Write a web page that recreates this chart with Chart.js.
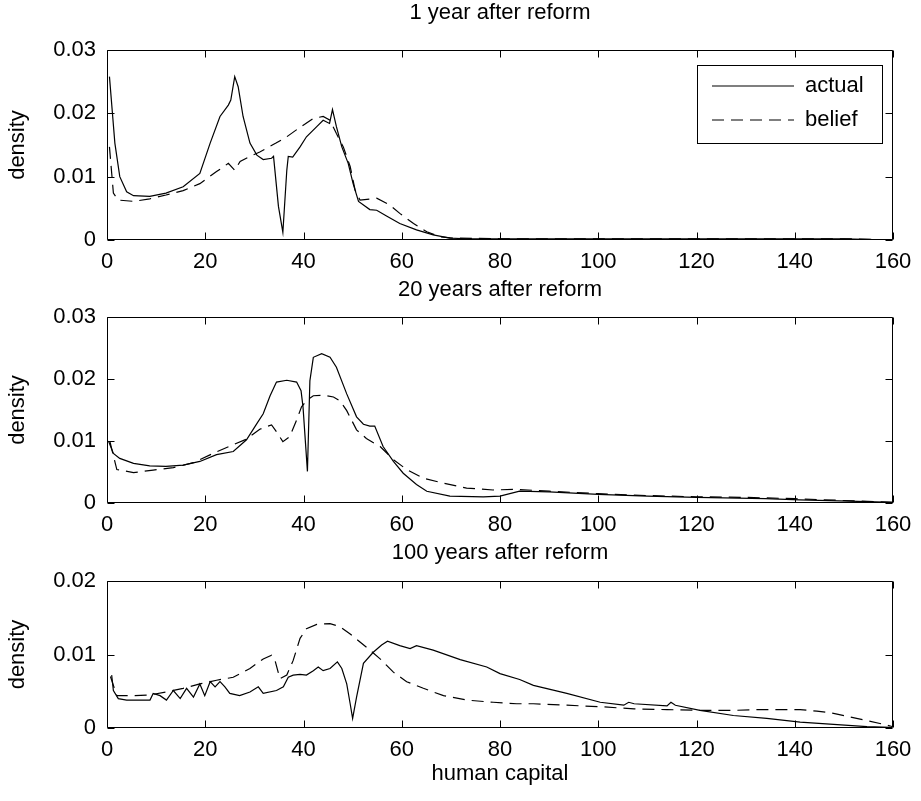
<!DOCTYPE html>
<html>
<head>
<meta charset="utf-8">
<title>human capital density</title>
<script src="https://cdn.jsdelivr.net/npm/chart.js@4.4.1/dist/chart.umd.min.js"></script>
<style>
  body { margin: 0; background: #fff; }
  #wrap { position: relative; width: 921px; height: 801px; }
  #wrap canvas { position: absolute; left: 0; }
</style>
</head>
<body>
<div id="wrap">
  <canvas id="c1" width="921" height="270" style="top:0px"></canvas>
  <canvas id="c2" width="921" height="263" style="top:270px"></canvas>
  <canvas id="c3" width="921" height="268" style="top:533px"></canvas>
</div>
<script>
// axis ticks and labels
const xTicks = [0, 20, 40, 60, 80, 100, 120, 140, 160];
const yTicksTall = [0, 0.01, 0.02, 0.03];
const yTicksShort = [0, 0.01, 0.02];
const seriesNames = ['actual', 'belief'];
const panelTitles = ['1 year after reform', '20 years after reform', '100 years after reform'];

// 1 year after reform
const hcActual1 = [0.5, 1.6, 2.6, 4, 5.4, 8.7, 12, 15.5, 18.9, 21, 23, 24.7, 25.2, 26, 26.7, 27.7, 29.1, 30.5, 31.8, 33.5,
  33.9, 34.9, 35.8, 36.6, 36.9, 37.8, 39.3, 40.6, 42.7, 44, 45.3, 45.9, 46.7, 47.8, 49.1, 50.1, 51.2, 53.5, 54.9, 56.9,
  59.6, 63, 66.4, 69.8, 73.2, 80, 100, 120, 140, 150, 160];
const densActual1 = [0.0258, 0.0153, 0.0100, 0.0076, 0.0070, 0.0069, 0.0074, 0.0084, 0.0105, 0.0153, 0.0195, 0.0213, 0.0221, 0.0258, 0.0242, 0.0195, 0.0153, 0.0134, 0.0127, 0.0129,
  0.0132, 0.0053, 0.0012, 0.0110, 0.0132, 0.0131, 0.0147, 0.0163, 0.0179, 0.0189, 0.0184, 0.0206, 0.0179, 0.0147, 0.0121, 0.0089, 0.0061, 0.0048, 0.0047, 0.0038,
  0.0026, 0.0016, 0.0008, 0.0003, 0.0002, 0.0002, 0.0002, 0.0002, 0.0002, 0.0002, 0.0000];
const hcBelief1 = [0.5, 1.3, 2.3, 5.4, 8.7, 12, 15.5, 18.9, 22.3, 24.7, 26, 27.1, 29.1, 31.1, 34.4, 36.6, 39.3, 42, 44, 45.4,
  46.7, 48.1, 49.5, 50.5, 51.5, 54.9, 57.6, 59.6, 62.4, 65.1, 67.8, 70.5, 80, 100, 120, 140, 150, 160];
const densBelief1 = [0.0147, 0.0074, 0.0063, 0.0061, 0.0065, 0.0071, 0.0078, 0.0089, 0.0108, 0.0121, 0.0110, 0.0124, 0.0132, 0.0139, 0.0153, 0.0163, 0.0178, 0.0192, 0.0195, 0.0189,
  0.0168, 0.0147, 0.0116, 0.0079, 0.0063, 0.0066, 0.0055, 0.0042, 0.0026, 0.0013, 0.0005, 0.0003, 0.0002, 0.0002, 0.0002, 0.0002, 0.0002, 0.0000];

// 20 years after reform
const hcActual2 = [0.3, 1.3, 2.6, 5.4, 8.7, 12, 15.5, 18.9, 22.3, 25.7, 28.4, 30.5, 31.8, 33.2, 34.5, 36.6, 38.6, 39.5, 39.9, 40.8,
  41.3, 42, 43.7, 45.4, 46.7, 48.8, 50.8, 52.2, 53.5, 54.5, 56.2, 58.3, 60.3, 63, 65.1, 69.8, 76.6, 80, 84, 90,
  100, 110, 120, 134, 141, 151, 160];
const densActual2 = [0.0100, 0.0080, 0.0072, 0.0064, 0.0060, 0.0059, 0.0061, 0.0067, 0.0078, 0.0083, 0.0102, 0.0128, 0.0144, 0.0173, 0.0195, 0.0198, 0.0195, 0.0181, 0.0155, 0.0051,
  0.0197, 0.0235, 0.0241, 0.0235, 0.0219, 0.0176, 0.0139, 0.0127, 0.0124, 0.0124, 0.0091, 0.0067, 0.0048, 0.0030, 0.0019, 0.0011, 0.0010, 0.0011, 0.0019, 0.0018,
  0.0014, 0.0011, 0.0009, 0.0007, 0.0005, 0.0003, 0.0001];
const hcBelief2 = [0.6, 2, 5.4, 9.4, 13.5, 17.6, 21.6, 25.7, 28.4, 31.1, 33.5, 34.5, 35.8, 37.2, 38.6, 39.6, 40.6, 42, 44, 46.1,
  47.4, 48.8, 50.8, 52.8, 55.6, 58.3, 61, 64.4, 68.5, 73.2, 78.6, 83.4, 90, 100, 110, 120, 130, 140, 150, 160];
const densBelief2 = [0.0099, 0.0054, 0.0049, 0.0053, 0.0057, 0.0065, 0.0080, 0.0094, 0.0103, 0.0119, 0.0126, 0.0115, 0.0099, 0.0107, 0.0134, 0.0155, 0.0165, 0.0173, 0.0174, 0.0171,
  0.0165, 0.0149, 0.0118, 0.0104, 0.0091, 0.0070, 0.0054, 0.0040, 0.0032, 0.0024, 0.0021, 0.0022, 0.0019, 0.0015, 0.0012, 0.0010, 0.0009, 0.0007, 0.0004, 0.0001];

// 100 years after reform
const hcActual3 = [0.95, 1.3, 2.3, 4, 8.75, 9.4, 10.8, 12.1, 13.5, 14.9, 16.2, 17.6, 18.9, 19.9, 21, 22, 23, 24, 25, 27,
  29.1, 30.8, 31.8, 34.5, 35.9, 36.9, 37.9, 39.3, 40.6, 42, 43, 44, 45.4, 46.9, 47.8, 48.8, 49.5, 50, 50.8, 52.2,
  54.2, 55.9, 57.1, 59.6, 61.7, 63, 66.4, 71.9, 77.3, 80, 84, 86.8, 93.6, 100.4, 105.2, 106.2, 107.3, 114, 114.8, 115.7,
  120.7, 127.5, 134.3, 141.1, 147.9, 154.7, 159.4];
const densActual3 = [0.0072, 0.0051, 0.0040, 0.0038, 0.0038, 0.0047, 0.0044, 0.0038, 0.0051, 0.0040, 0.0054, 0.0042, 0.0060, 0.0044, 0.0063, 0.0056, 0.0063, 0.0056, 0.0047, 0.0044,
  0.0049, 0.0056, 0.0047, 0.0051, 0.0056, 0.0069, 0.0072, 0.0073, 0.0072, 0.0078, 0.0083, 0.0078, 0.0081, 0.0090, 0.0081, 0.0060, 0.0033, 0.0013, 0.0042, 0.0088,
  0.0103, 0.0113, 0.0118, 0.0112, 0.0108, 0.0112, 0.0106, 0.0093, 0.0083, 0.0074, 0.0066, 0.0058, 0.0047, 0.0035, 0.0031, 0.0035, 0.0033, 0.0030, 0.0035, 0.0031,
  0.0024, 0.0017, 0.0013, 0.0008, 0.0005, 0.0002, 0.0001];
const hcBelief3 = [0.7, 2, 5.4, 8.75, 12.1, 15.5, 18.9, 22.3, 25.7, 29.1, 31.8, 33.5, 34.2, 35.2, 36.6, 37.9, 39.3, 40.6, 42.7, 45.4,
  47.4, 49.5, 51.5, 53.5, 55.6, 58.3, 61, 64.4, 68.5, 73.2, 78.6, 83.4, 86.8, 93.6, 100.4, 107.3, 114, 120.7, 127.5, 132.9,
  141.1, 144.5, 147.9, 151.3, 154.7, 158.1, 159.8];
const densBelief3 = [0.0070, 0.0044, 0.0044, 0.0045, 0.0049, 0.0054, 0.0060, 0.0065, 0.0069, 0.0081, 0.0094, 0.0099, 0.0092, 0.0067, 0.0072, 0.0092, 0.0122, 0.0135, 0.0141, 0.0142,
  0.0138, 0.0128, 0.0117, 0.0106, 0.0094, 0.0076, 0.0063, 0.0054, 0.0044, 0.0038, 0.0035, 0.0033, 0.0033, 0.0031, 0.0029, 0.0026, 0.0025, 0.0024, 0.0024, 0.0025,
  0.0025, 0.0023, 0.0020, 0.0015, 0.0010, 0.0005, 0.0002];

const FONT = { family: '"Liberation Sans", Arial, Helvetica, sans-serif', size: 22, weight: 'normal', lineHeight: 1.2 };
const INK = '#000';
const LINE_W = 1.2;

function toPoints(xs, ys) {
    return xs.map((x, i) => ({ x: x, y: ys[i] }));
}

// boxed axes with inward tick marks on all four sides
const boxAxes = {
    id: 'boxAxes',
    afterDatasetsDraw(chart) {
        const { ctx, chartArea: a, scales } = chart;
        const L = Math.round(a.left) + 0.5, R = Math.round(a.right) - 0.5;
        const T = Math.round(a.top) + 0.5, B = Math.round(a.bottom) - 0.5;
        const len = 7;
        ctx.save();
        ctx.strokeStyle = INK;
        ctx.lineWidth = 1;
        ctx.beginPath();
        ctx.rect(L, T, R - L, B - T);
        scales.x.ticks.forEach(t => {
            const px = Math.round(scales.x.getPixelForValue(t.value)) + 0.5;
            ctx.moveTo(px, T); ctx.lineTo(px, T + len);
            ctx.moveTo(px, B); ctx.lineTo(px, B - len);
        });
        scales.y.ticks.forEach(t => {
            const py = Math.round(scales.y.getPixelForValue(t.value)) + 0.5;
            ctx.moveTo(L, py); ctx.lineTo(L + len, py);
            ctx.moveTo(R, py); ctx.lineTo(R - len, py);
        });
        ctx.stroke();
        ctx.restore();
    }
};

// puts the legend in the upper right corner of the plot, inside a frame
const legendFrame = {
    id: 'legendFrame',
    afterLayout(chart) {
        const lg = chart.legend;
        const a = chart.chartArea;
        const box = { left: a.right - 11 - 185, top: a.top + 15, width: 185, height: 78 };
        const pad = lg.options.labels.padding;
        chart.$legendBox = box;
        lg.left = box.left + 15 - pad;
        lg.top = box.top + 10 - pad;
        lg.right = box.left + box.width;
        lg.bottom = box.top + box.height + 20;
        lg.width = lg.right - lg.left;
        lg.height = lg.bottom - lg.top;
    },
    afterDraw(chart) {
        const b = chart.$legendBox;
        const ctx = chart.ctx;
        ctx.save();
        ctx.strokeStyle = INK;
        ctx.lineWidth = 1;
        ctx.strokeRect(Math.round(b.left) + 0.5, Math.round(b.top) + 0.5, b.width, b.height);
        ctx.restore();
    }
};

// legend samples: same stroke and dash as the plotted lines
function lineLabels(chart) {
    const items = Chart.defaults.plugins.legend.labels.generateLabels(chart);
    return items.map(item => {
        const ds = chart.data.datasets[item.datasetIndex];
        item.lineDash = ds.borderDash || [];
        item.lineWidth = LINE_W;
        item.strokeStyle = INK;
        item.pointStyle = 'line';
        return item;
    });
}

function makePanel(id, p) {
    const plugins = [boxAxes];
    if (p.legend) plugins.push(legendFrame);

    return new Chart(document.getElementById(id), {
        type: 'line',
        data: {
            datasets: [{
                label: seriesNames[0],
                data: toPoints(p.actualX, p.actualY),
                borderColor: INK,
                backgroundColor: INK,
                borderWidth: LINE_W,
                pointRadius: 0,
                tension: 0
            }, {
                label: seriesNames[1],
                data: toPoints(p.beliefX, p.beliefY),
                borderColor: INK,
                backgroundColor: INK,
                borderWidth: LINE_W,
                borderDash: [12, 7],
                pointRadius: 0,
                tension: 0
            }]
        },
        options: {
            responsive: false,
            animation: false,
            devicePixelRatio: 1,
            events: [],
            layout: { padding: { left: 0, right: 28, top: 0, bottom: 0 } },
            plugins: {
                title: {
                    display: true,
                    text: p.title,
                    fullSize: false,
                    color: INK,
                    font: FONT,
                    padding: p.titlePad
                },
                legend: p.legend ? {
                    display: true,
                    position: 'chartArea',
                    align: 'start',
                    labels: {
                        color: INK,
                        font: FONT,
                        usePointStyle: true,
                        pointStyle: 'line',
                        pointStyleWidth: 82,
                        padding: 12,
                        generateLabels: lineLabels
                    }
                } : { display: false },
                tooltip: { enabled: false }
            },
            scales: {
                x: {
                    type: 'linear',
                    min: 0,
                    max: 160,
                    afterBuildTicks: s => { s.ticks = xTicks.map(v => ({ value: v })); },
                    afterFit: s => { s.height = p.xHeight; },
                    grid: { display: false, drawTicks: false },
                    border: { display: false },
                    ticks: { color: INK, font: FONT, padding: 9, maxRotation: 0, autoSkip: false },
                    title: p.xTitle ? {
                        display: true,
                        text: p.xTitle,
                        color: INK,
                        font: FONT,
                        padding: { top: 0, bottom: 14 }
                    } : { display: false }
                },
                y: {
                    min: 0,
                    max: p.yTicks[p.yTicks.length - 1],
                    afterBuildTicks: s => { s.ticks = p.yTicks.map(v => ({ value: v })); },
                    afterFit: s => { s.width = 107; },
                    grid: { display: false, drawTicks: false },
                    border: { display: false },
                    ticks: {
                        color: INK,
                        font: FONT,
                        padding: 11,
                        callback: v => (v === 0 ? '0' : v.toFixed(2))
                    },
                    title: {
                        display: true,
                        text: 'density',
                        color: INK,
                        font: FONT,
                        padding: { top: 5, bottom: 0 }
                    }
                }
            }
        },
        plugins: plugins
    });
}

makePanel('c1', {
    title: panelTitles[0], titlePad: { top: 0, bottom: 23.6 },
    actualX: hcActual1, actualY: densActual1, beliefX: hcBelief1, beliefY: densBelief1,
    yTicks: yTicksTall, xHeight: 30, legend: true
});
makePanel('c2', {
    title: panelTitles[1], titlePad: { top: 6.8, bottom: 13.8 },
    actualX: hcActual2, actualY: densActual2, beliefX: hcBelief2, beliefY: densBelief2,
    yTicks: yTicksTall, xHeight: 30
});
makePanel('c3', {
    title: panelTitles[2], titlePad: { top: 6.8, bottom: 14.8 },
    actualX: hcActual3, actualY: densActual3, beliefX: hcBelief3, beliefY: densBelief3,
    yTicks: yTicksShort, xHeight: 73, xTitle: 'human capital'
});
</script>
</body>
</html>
